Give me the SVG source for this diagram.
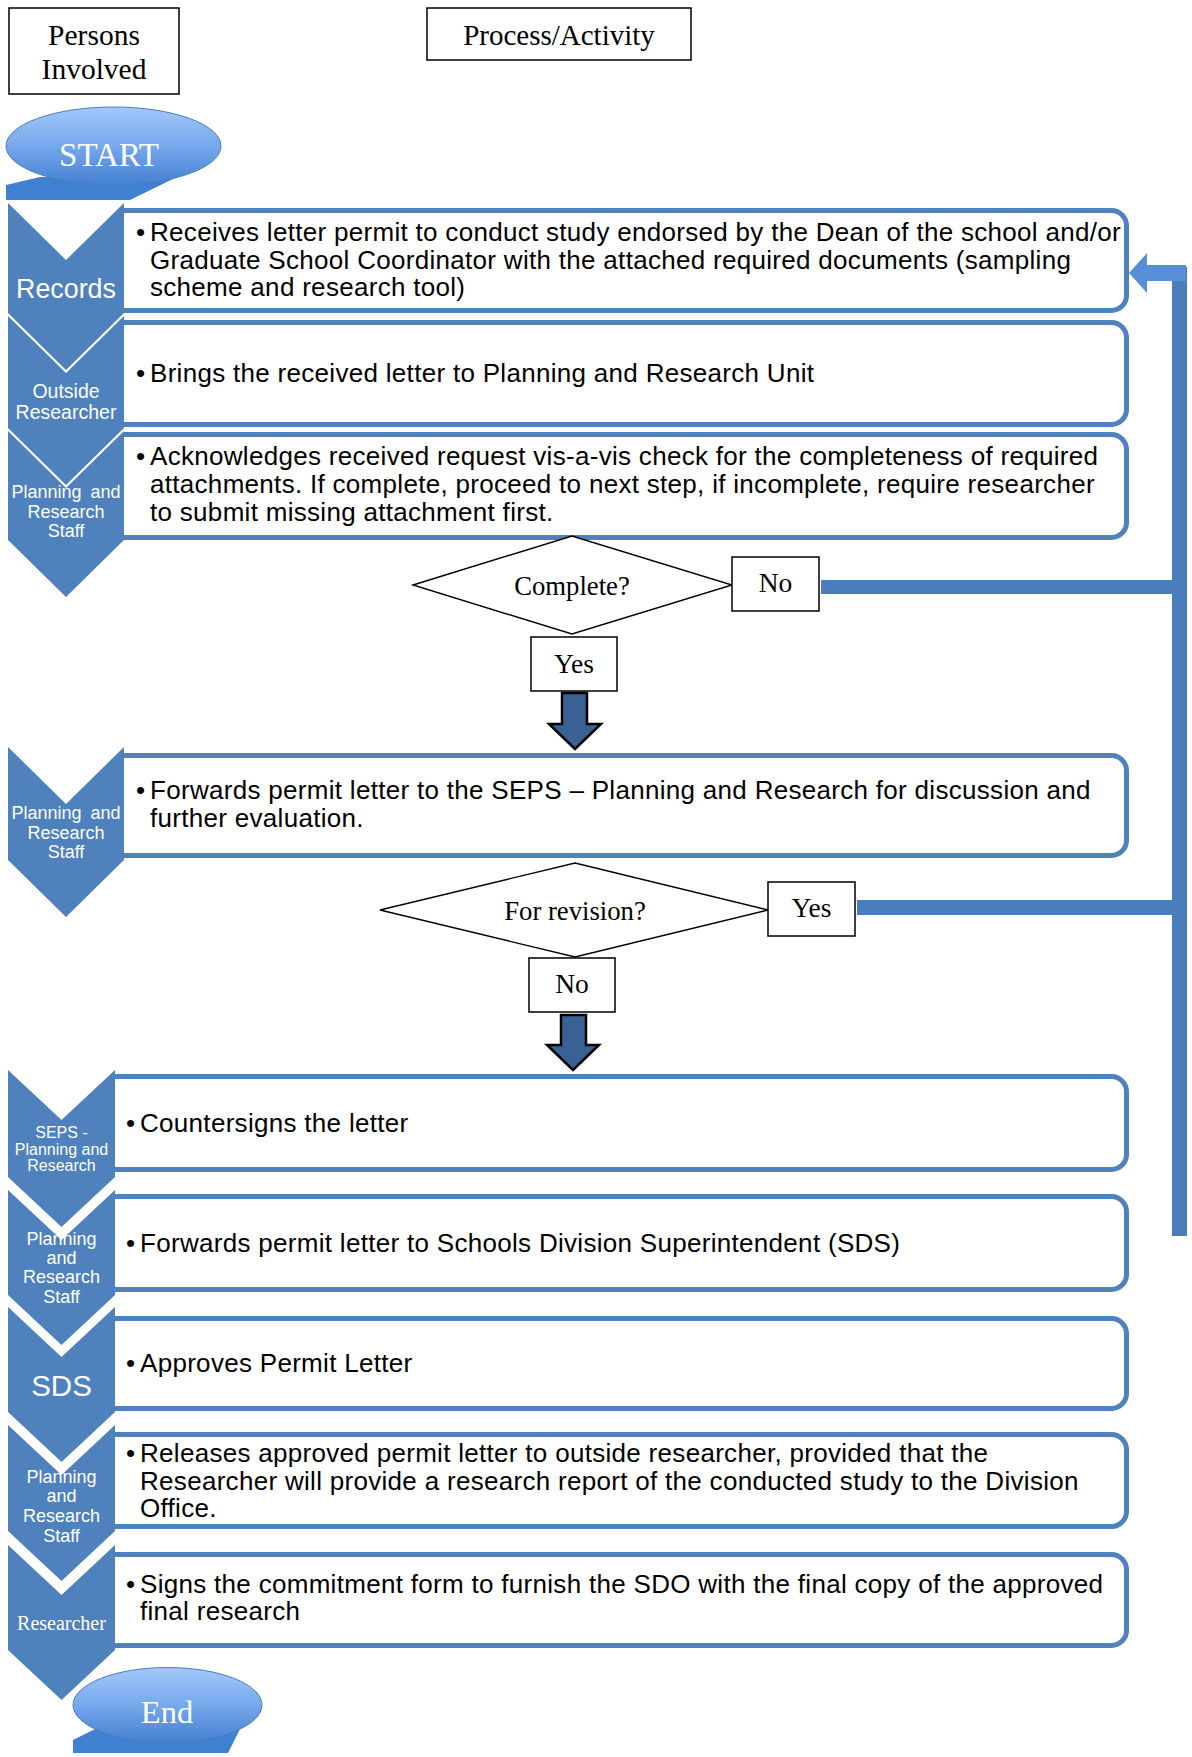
<svg xmlns="http://www.w3.org/2000/svg" width="1192" height="1757" viewBox="0 0 1192 1757">
<defs>
<linearGradient id="ell" x1="0" y1="0" x2="0" y2="1">
<stop offset="0" stop-color="#a3c8fa"/>
<stop offset="0.5" stop-color="#76a8ec"/>
<stop offset="1" stop-color="#4580d2"/>
</linearGradient>
<style>
.hdr{fill:#fff;stroke:#000;stroke-width:1.5}
.tms{font-family:"Liberation Serif","Times New Roman",serif;fill:#000}
.box{fill:#fff;stroke:#4f81bd;stroke-width:5}
.chev{fill:#4f81bd}
.lab{font-family:"Liberation Sans",Arial,sans-serif;fill:#fff;text-anchor:middle}
.txt{font-family:"Liberation Sans",Arial,sans-serif;font-size:26px;letter-spacing:0.3px;fill:#000}
.dia{fill:#fff;stroke:#000;stroke-width:1.4}
.lbl{fill:#fff;stroke:#000;stroke-width:1.5}
.conn{fill:#4a7ebb}
.dn{fill:#3a6193;stroke:#000;stroke-width:2.5;stroke-linejoin:miter}
.tail{fill:#4080d0}
.ellp{fill:url(#ell);stroke:#4a7ebb;stroke-width:1}
.etx{font-family:"Liberation Serif","Times New Roman",serif;fill:#fff;text-anchor:middle}
</style>
</defs>
<rect width="1192" height="1757" fill="#fff"/>

<g id="hdr-persons">
<rect class="hdr" x="9" y="8" width="170" height="86"/>
<text class="tms" x="94" y="45" font-size="29.5" text-anchor="middle">Persons</text>
<text class="tms" x="94" y="79" font-size="29.5" text-anchor="middle">Involved</text>
</g>
<g id="hdr-process">
<rect class="hdr" x="427" y="8" width="264" height="52"/>
<text class="tms" x="559" y="45" font-size="29" text-anchor="middle">Process/Activity</text>
</g>

<g id="start">
<polygon class="tail" points="6,185 40,177 175,178 130,200 6,200"/>
<ellipse class="ellp" cx="113.5" cy="146" rx="107.5" ry="39"/>
<text class="etx" x="109" y="166" font-size="33">START</text>
</g>

<g id="boxes">
<path class="box" d="M124,210.5 H1111.5 A15,15 0 0 1 1126.5,225.5 V295.5 A15,15 0 0 1 1111.5,310.5 H124"/>
<path class="box" d="M124,322.5 H1111.5 A15,15 0 0 1 1126.5,337.5 V409.5 A15,15 0 0 1 1111.5,424.5 H124"/>
<path class="box" d="M124,434.5 H1111.5 A15,15 0 0 1 1126.5,449.5 V522.5 A15,15 0 0 1 1111.5,537.5 H124"/>
<path class="box" d="M124,755.5 H1111.5 A15,15 0 0 1 1126.5,770.5 V840.5 A15,15 0 0 1 1111.5,855.5 H124"/>
<path class="box" d="M115,1076.5 H1111.5 A15,15 0 0 1 1126.5,1091.5 V1154.5 A15,15 0 0 1 1111.5,1169.5 H115"/>
<path class="box" d="M115,1196.5 H1111.5 A15,15 0 0 1 1126.5,1211.5 V1274.5 A15,15 0 0 1 1111.5,1289.5 H115"/>
<path class="box" d="M115,1318.5 H1111.5 A15,15 0 0 1 1126.5,1333.5 V1393.5 A15,15 0 0 1 1111.5,1408.5 H115"/>
<path class="box" d="M115,1434.5 H1111.5 A15,15 0 0 1 1126.5,1449.5 V1511.5 A15,15 0 0 1 1111.5,1526.5 H115"/>
<path class="box" d="M115,1554.5 H1111.5 A15,15 0 0 1 1126.5,1569.5 V1630.5 A15,15 0 0 1 1111.5,1645.5 H115"/>
</g>

<g id="step1">
<path class="chev" d="M8,203 L66,260 L124,203 V313 L66,370 L8,313 Z"/>
<text class="lab" x="66" y="298" font-size="26.8">Records</text>
<text class="txt" x="136" y="241">•</text>
<text class="txt" x="150" y="241">Receives letter permit to conduct study endorsed by the Dean of the school and/or</text>
<text class="txt" x="150" y="268.5">Graduate School Coordinator with the attached required documents (sampling</text>
<text class="txt" x="150" y="296">scheme and research tool)</text>
</g>
<g id="step2">
<path class="chev" d="M8,316 L66,373 L124,316 V428 L66,485 L8,428 Z"/>
<text class="lab" x="66" y="398" font-size="19.5">Outside</text>
<text class="lab" x="66" y="419" font-size="19.5">Researcher</text>
<text class="txt" x="136" y="382">•</text>
<text class="txt" x="150" y="382">Brings the received letter to Planning and Research Unit</text>
</g>
<g id="step3">
<path class="chev" d="M8,431 L66,488 L124,431 V540 L66,597 L8,540 Z"/>
<text class="lab" x="66" y="498" font-size="18" word-spacing="4">Planning and</text>
<text class="lab" x="66" y="518" font-size="18">Research</text>
<text class="lab" x="66" y="537" font-size="18">Staff</text>
<text class="txt" x="136" y="465">•</text>
<text class="txt" x="150" y="465">Acknowledges received request vis-a-vis check for the completeness of required</text>
<text class="txt" x="150" y="493">attachments. If complete, proceed to next step, if incomplete, require researcher</text>
<text class="txt" x="150" y="521">to submit missing attachment first.</text>
</g>

<g id="dec-complete">
<polygon class="dia" points="413,585 572,536 732,585 572,634"/>
<text class="tms" x="572" y="595" font-size="26.7" text-anchor="middle">Complete?</text>
</g>
<g id="lbl-no1">
<rect class="lbl" x="732" y="557" width="87" height="54"/>
<text class="tms" x="775.5" y="592" font-size="27.5" text-anchor="middle">No</text>
</g>
<g id="lbl-yes1">
<rect class="lbl" x="531" y="637" width="86" height="54"/>
<text class="tms" x="574" y="673" font-size="27.5" text-anchor="middle">Yes</text>
</g>

<g id="step4">
<path class="chev" d="M8,747 L66,804 L124,747 V860 L66,917 L8,860 Z"/>
<text class="lab" x="66" y="819" font-size="18" word-spacing="4">Planning and</text>
<text class="lab" x="66" y="839" font-size="18">Research</text>
<text class="lab" x="66" y="858" font-size="18">Staff</text>
<text class="txt" x="136" y="799">•</text>
<text class="txt" x="150" y="799">Forwards permit letter to the SEPS – Planning and Research for discussion and</text>
<text class="txt" x="150" y="827">further evaluation.</text>
</g>

<g id="dec-revision">
<polygon class="dia" points="380,910 575,863 768,910 575,957"/>
<text class="tms" x="575" y="920" font-size="26.7" text-anchor="middle">For revision?</text>
</g>
<g id="lbl-yes2">
<rect class="lbl" x="768" y="882" width="87" height="54"/>
<text class="tms" x="811.5" y="917" font-size="27.5" text-anchor="middle">Yes</text>
</g>
<g id="lbl-no2">
<rect class="lbl" x="529" y="958" width="86" height="54"/>
<text class="tms" x="572" y="993" font-size="27.5" text-anchor="middle">No</text>
</g>

<g id="step5">
<path class="chev" d="M8,1070 L61.5,1120 L115,1070 V1177 L61.5,1227 L8,1177 Z"/>
<text class="lab" x="61.5" y="1138" font-size="16">SEPS -</text>
<text class="lab" x="61.5" y="1154.5" font-size="16">Planning and</text>
<text class="lab" x="61.5" y="1171" font-size="16">Research</text>
<text class="txt" x="126" y="1132">•</text>
<text class="txt" x="140" y="1132">Countersigns the letter</text>
</g>
<g id="step6">
<path class="chev" d="M8,1190 L61.5,1240 L115,1190 V1295 L61.5,1345 L8,1295 Z"/>
<text class="lab" x="61.5" y="1245" font-size="18">Planning</text>
<text class="lab" x="61.5" y="1264" font-size="18">and</text>
<text class="lab" x="61.5" y="1283" font-size="18">Research</text>
<text class="lab" x="61.5" y="1303" font-size="18">Staff</text>
<text class="txt" x="126" y="1252">•</text>
<text class="txt" x="140" y="1252">Forwards permit letter to Schools Division Superintendent (SDS)</text>
</g>
<g id="step7">
<path class="chev" d="M8,1307 L61.5,1357 L115,1307 V1412 L61.5,1462 L8,1412 Z"/>
<text class="lab" x="61.5" y="1396" font-size="29.5">SDS</text>
<text class="txt" x="126" y="1372">•</text>
<text class="txt" x="140" y="1372">Approves Permit Letter</text>
</g>
<g id="step8">
<path class="chev" d="M8,1425 L61.5,1475 L115,1425 V1531 L61.5,1581 L8,1531 Z"/>
<text class="lab" x="61.5" y="1483" font-size="18">Planning</text>
<text class="lab" x="61.5" y="1502" font-size="18">and</text>
<text class="lab" x="61.5" y="1522" font-size="18">Research</text>
<text class="lab" x="61.5" y="1542" font-size="18">Staff</text>
<text class="txt" x="126" y="1462">•</text>
<text class="txt" x="140" y="1462">Releases approved permit letter to outside researcher, provided that the</text>
<text class="txt" x="140" y="1489.5">Researcher will provide a research report of the conducted study to the Division</text>
<text class="txt" x="140" y="1517">Office.</text>
</g>
<g id="step9">
<path class="chev" d="M8,1545 L61.5,1595 L115,1545 V1650 L61.5,1700 L8,1650 Z"/>
<text class="etx" x="61.5" y="1630" font-size="20">Researcher</text>
<text class="txt" x="126" y="1593">•</text>
<text class="txt" x="140" y="1593">Signs the commitment form to furnish the SDO with the final copy of the approved</text>
<text class="txt" x="140" y="1620">final research</text>
</g>

<g id="end">
<polygon class="tail" points="73,1740 95,1729 240,1729 228,1753 73,1753"/>
<ellipse class="ellp" cx="167.5" cy="1705" rx="94.5" ry="37.5"/>
<text class="etx" x="167" y="1723" font-size="32.5">End</text>
</g>

<g id="connectors">
<rect class="conn" x="821" y="580" width="366" height="14"/>
<rect class="conn" x="857" y="900" width="330" height="15"/>
<rect class="conn" x="1172" y="267" width="15" height="969"/>
<polygon fill="#568fd6" points="1129,273 1147,253 1147,265 1186,265 1186,281 1147,281 1147,293"/>
<polygon class="dn" points="562,693 587,693 587,724 601,724 575,749 549,724 562,724"/>
<polygon class="dn" points="561,1015 586,1015 586,1045 599,1045 573,1070 547,1045 561,1045"/>
</g>
</svg>
